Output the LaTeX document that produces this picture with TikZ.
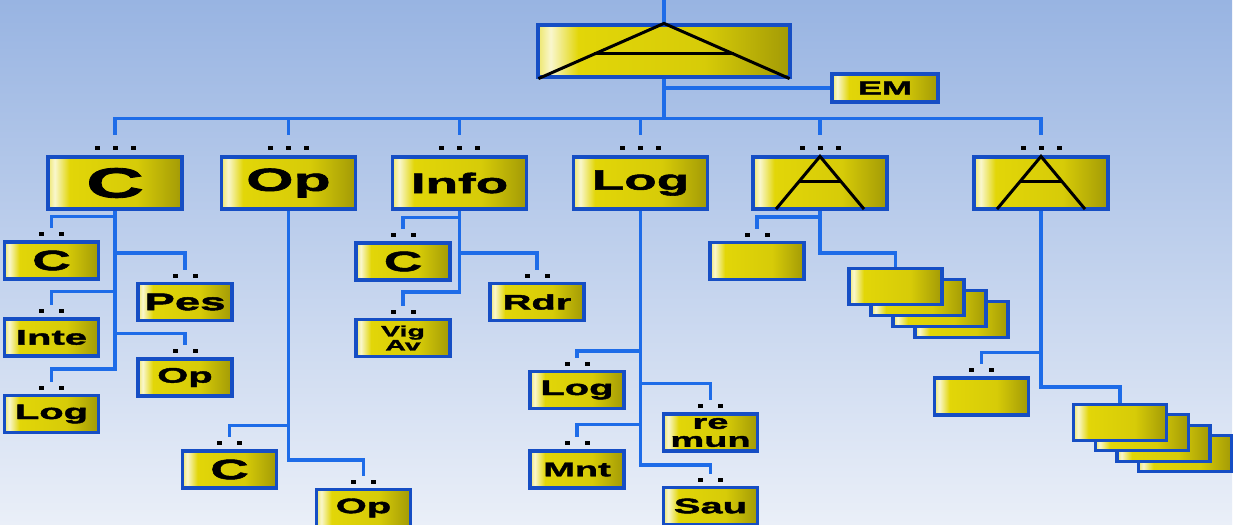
\documentclass[tikz,border=0pt]{standalone}
\usepackage{fontspec}
\newfontfamily\boxfont[FakeStretch=1.9,FakeBold=2]{Liberation Sans Bold}
\usetikzlibrary{calc}

\definecolor{skytop}{RGB}{152,180,226}
\definecolor{skybottom}{RGB}{234,239,248}
\definecolor{wireblue}{RGB}{30,108,232}
\definecolor{rimblue}{RGB}{22,78,196}
\definecolor{gold}{RGB}{226,214,8}

% yellow plate: glow near the left edge, darker towards the right
\pgfdeclarehorizontalshading{goldbar}{100bp}{color(0bp)=(gold!60!white); color(25bp)=(gold!60!white); color(27.5bp)=(white!80!gold); color(33bp)=(gold); color(58bp)=(gold!95!black); color(75bp)=(gold!72!black); color(100bp)=(gold!72!black)}

\pgfdeclarelayer{bg}
\pgfdeclarelayer{wires}
\pgfsetlayers{bg,wires,main}

\tikzset{
  wire/.style={draw=wireblue, line width=1.8pt},
  box/.style={draw=rimblue, line width=1.6pt, shading=goldbar, inner sep=0pt, font=\boxfont},
  fs/.style={font=\boxfont\fontsize{#1}{#1}\selectfont},
  lvone/.style={box, minimum width=67pt, minimum height=26pt},
  leaf/.style={box, minimum width=47pt, minimum height=18.5pt},
  card/.style={box, minimum width=46.5pt, minimum height=18pt},
  glyph/.style={draw=black, line width=1.5pt},
}

% branch from a trunk down to a child box
\newcommand\twig[3]{\draw[wire] (#1.south) |- ([yshift=#3pt]#2.north) -- ([yshift=6pt]#2.north);}
% top-level branch
\newcommand\limb[1]{\draw[wire] (top.south) |- ([yshift=18.5pt]#1.north) -- ([yshift=10pt]#1.north);}
% small dots over the boxes
\newcommand\pairdots[1]{%
  \fill ([xshift=-6.25pt,yshift=2pt]#1.north) rectangle ++(2.5pt,2pt);
  \fill ([xshift=3.75pt,yshift=2pt]#1.north) rectangle ++(2.5pt,2pt);}
\newcommand\tripledots[1]{%
  \foreach \dx in {-10.25,-1.25,7.75}
    \fill ([xshift=\dx pt,yshift=2.5pt]#1.north) rectangle ++(2.5pt,2pt);}
% the letter A drawn with strokes
\newcommand\peak[1]{%
  \draw[glyph] ([xshift=-22pt,yshift=0.75pt]#1.south) -- ([yshift=-0.5pt]#1.north) -- ([xshift=22pt,yshift=0.75pt]#1.south);
  \draw[glyph] ($(#1.north)!0.48!([xshift=-22pt]#1.south)$) -- ($(#1.north)!0.48!([xshift=22pt]#1.south)$);}

\begin{document}
\begin{tikzpicture}[x=0.5pt, y=0.5pt]
  \useasboundingbox (0,0) rectangle (1239,-525);
  \begin{pgfonlayer}{bg}
    \fill[white] (0,0) rectangle (1239,-525);
    \shade[top color=skytop, bottom color=skybottom] (0,0) rectangle (1232,-525);
  \end{pgfonlayer}

  % head
  \coordinate (feed) at (664,0);
  \node[box, minimum width=126pt, minimum height=26pt] (top) at (664,-51) {};
  \node[box, fs=9.5, minimum width=53pt, minimum height=14pt] (em) at (885,-88) {EM};

  % first level
  \node[lvone, fs=21] (kC)    at (115,-183)   {C};
  \node[lvone, fs=16] (kOp)   at (288.5,-183) {Op};
  \node[lvone, fs=14] (kInfo) at (459.5,-183) {Info};
  \node[lvone, fs=14] (kLog)  at (640.5,-183) {Log};
  \node[lvone]        (kA1)   at (820,-183)   {};
  \node[lvone]        (kA2)   at (1041,-183)  {};

  % under C
  \node[leaf, fs=14]   (cC)    at (51.5,-260.5) {C};
  \node[leaf, fs=12]   (cPes)  at (185,-302)    {Pes};
  \node[leaf, fs=10.5] (cInte) at (51.5,-337.5) {Inte};
  \node[leaf, fs=10.5] (cOp)   at (185,-377.5)  {Op};
  \node[leaf, fs=10.5] (cLog)  at (51.5,-414)   {Log};

  % under Op
  \node[leaf, fs=14]   (oC)  at (229.5,-469.5) {C};
  \node[leaf, fs=10.5] (oOp) at (363.5,-508)   {Op};

  % under Info
  \node[leaf, fs=14]   (iC)   at (403,-261.5) {C};
  \node[leaf, fs=10.5] (iRdr) at (537,-302)   {Rdr};
  \node[leaf, align=center, font=\boxfont\fontsize{7.5}{7}\selectfont] (iVig) at (403,-338) {Vig\\Av};

  % under Log
  \node[leaf, fs=10.5] (lLog) at (577,-390)   {Log};
  \node[leaf, align=center, font=\boxfont\fontsize{10}{9}\selectfont] (lRe) at (710.5,-432.5) {re\\mun};
  \node[leaf, fs=10]   (lMnt) at (577,-469.5) {Mnt};
  \node[leaf, fs=10.5] (lSau) at (710.5,-506) {Sau};

  % under the two A boxes
  \node[leaf] (aBox) at (757,-261) {};
  \foreach \k in {3,2,1,0}
    \node[card] (sa\k) at (895.5+22*\k,-286.5-11*\k) {};
  \node[leaf] (bBox) at (981.5,-396.5) {};
  \foreach \k in {3,2,1,0}
    \node[card] (sb\k) at (1120+21.7*\k,-422.5-10.3*\k) {};

  \begin{pgfonlayer}{wires}
    \draw[wire] (feed) -- (top.north);
    \draw[wire] (top.south) |- (em.west);
    \limb{kC} \limb{kOp} \limb{kInfo} \limb{kLog} \limb{kA1} \limb{kA2}
    \twig{kC}{cC}{12} \twig{kC}{cPes}{14.5} \twig{kC}{cInte}{13}
    \twig{kC}{cOp}{12} \twig{kC}{cLog}{12.5}
    \twig{kOp}{oC}{12} \twig{kOp}{oOp}{14}
    \twig{kInfo}{iC}{12} \twig{kInfo}{iRdr}{14.5} \twig{kInfo}{iVig}{13}
    \twig{kLog}{lLog}{9.5} \twig{kLog}{lRe}{14.5}
    \twig{kLog}{lMnt}{12.5} \twig{kLog}{lSau}{10.5}
    \twig{kA1}{aBox}{12}
    \draw[wire] (kA1.south) |- ([yshift=7pt]sa0.north) -- (sa0.north);
    \twig{kA2}{bBox}{12}
    \draw[wire] (kA2.south) |- ([yshift=8pt]sb0.north) -- (sb0.north);
  \end{pgfonlayer}

  % dots
  \foreach \n in {kC,kOp,kInfo,kLog,kA1,kA2} {\tripledots{\n}}
  \foreach \n in {cC,cPes,cInte,cOp,cLog,oC,oOp,iC,iRdr,iVig,lLog,lRe,lMnt,lSau,aBox,bBox} {\pairdots{\n}}

  % strokes inside the head and the A boxes
  \draw[glyph] ([xshift=1pt]top.south west) -- (top.north) -- ([xshift=-1pt]top.south east);
  \draw[glyph] ($(top.north)!0.55!(top.south west)$) -- ($(top.north)!0.55!(top.south east)$);
  \peak{kA1}
  \peak{kA2}
\end{tikzpicture}
\end{document}
